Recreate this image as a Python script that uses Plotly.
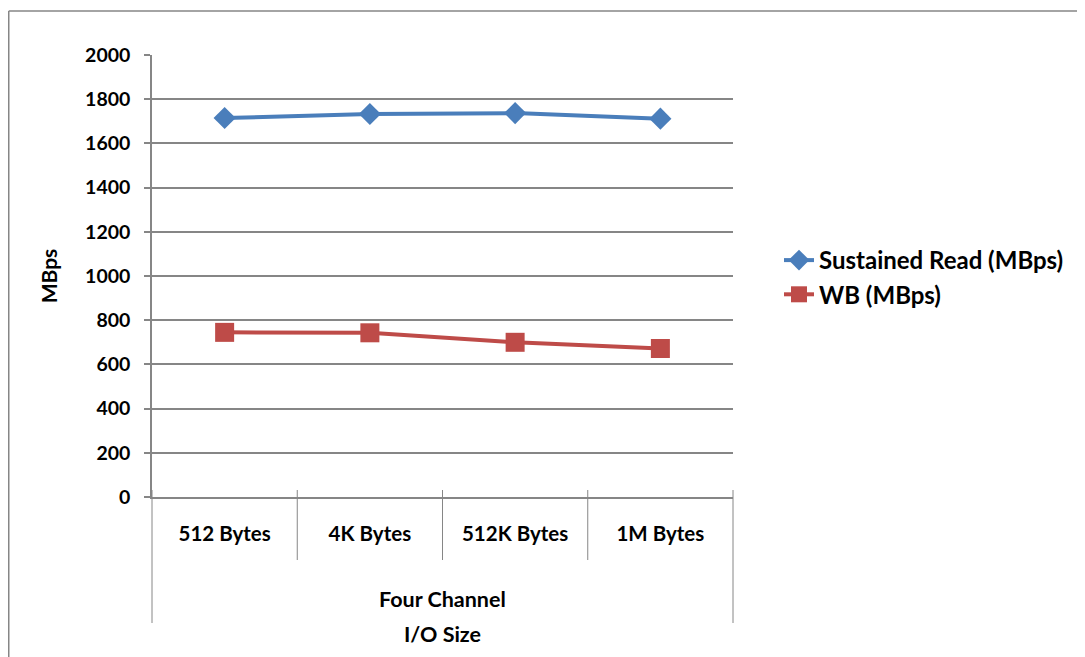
import plotly.graph_objects as go

categories = ["512 Bytes", "4K Bytes", "512K Bytes", "1M Bytes"]
group_label = "Four Channel"
read_values = [1715, 1733, 1737, 1712]
wb_values = [745, 743, 700, 672]
series_names = ["Sustained Read (MBps)", "WB (MBps)"]
y_ticks = [0, 200, 400, 600, 800, 1000, 1200, 1400, 1600, 1800, 2000]

FONT = "Lato"
GRAY = "#868686"
BLUE = "#4A7EBB"
RED = "#BE4B48"

# page is rendered with an 8px body margin; work in figure coordinates
OFF = 8
W, H = 1085 - OFF, 657 - OFF
L, T = 152 - OFF, 55 - OFF
R = W - (733 - OFF)
B = H - (497 - OFF)
pw, ph = W - L - R, H - T - B

def px_x(px):
    return (px - OFF - L) / pw

def px_y(py):
    return (H - B - (py - OFF)) / ph

fig = go.Figure()
fig.add_trace(go.Scatter(
    x=categories, y=read_values, name=series_names[0], mode="lines+markers",
    line=dict(color=BLUE, width=4),
    marker=dict(symbol="diamond", size=17, color=BLUE),
))
fig.add_trace(go.Scatter(
    x=categories, y=wb_values, name=series_names[1], mode="lines+markers",
    line=dict(color=RED, width=4),
    marker=dict(symbol="square", size=19, color=RED),
))

shapes = []
# chart border (top and left edges visible)
shapes.append(dict(type="line", xref="paper", yref="paper",
                   x0=px_x(8.75), x1=px_x(1100), y0=px_y(11), y1=px_y(11),
                   line=dict(color=GRAY, width=1.5)))
shapes.append(dict(type="line", xref="paper", yref="paper",
                   x0=px_x(8.75), x1=px_x(8.75), y0=px_y(11), y1=px_y(670),
                   line=dict(color=GRAY, width=1.5)))
# category dividers
n = len(categories)
for i in range(n + 1):
    xb = i / n
    bottom = 623 if i in (0, n) else 560
    shapes.append(dict(type="line", xref="paper", yref="paper",
                       x0=xb, x1=xb, y0=px_y(490), y1=px_y(bottom),
                       line=dict(color=GRAY, width=1)))

fig.update_layout(
    width=W, height=H, autosize=False,
    margin=dict(l=L, r=R, t=T, b=B),
    paper_bgcolor="white", plot_bgcolor="white",
    font=dict(family=FONT, color="black"),
    showlegend=True,
    legend=dict(x=px_x(779), y=px_y(277.5), xanchor="left", yanchor="middle",
                font=dict(size=24, family=FONT, color="black", weight="bold"),
                bgcolor="rgba(0,0,0,0)", tracegroupgap=0),
    shapes=shapes,
    annotations=[dict(text=group_label, xref="paper", yref="paper",
                      x=0.5, y=px_y(599), xanchor="center", yanchor="middle",
                      showarrow=False,
                      font=dict(size=21.5, family=FONT, color="black", weight="bold"))],
)
fig.update_xaxes(
    type="category", categoryorder="array", categoryarray=categories,
    showgrid=False, showline=True, linecolor=GRAY, linewidth=1.5,
    ticks="", ticklabelstandoff=18,
    tickfont=dict(size=20.5, family=FONT, color="black", weight="bold"),
    title=dict(text="I/O Size", standoff=83,
               font=dict(size=21.5, family=FONT, color="black", weight="bold")),
    range=[-0.5, n - 0.5], fixedrange=True,
)
fig.update_yaxes(
    range=[0, 2000], tickvals=y_ticks,
    showgrid=True, gridcolor=GRAY, gridwidth=1.5,
    showline=True, linecolor=GRAY, linewidth=1.5,
    ticks="outside", ticklen=6, tickcolor=GRAY, tickwidth=1.5,
    ticklabelstandoff=10, zeroline=False,
    tickfont=dict(size=19.5, family=FONT, color="black", weight="bold"),
    title=dict(text="MBps", standoff=22,
               font=dict(size=21, family=FONT, color="black", weight="bold")),
    fixedrange=True,
)

fig.write_html("out.html")
